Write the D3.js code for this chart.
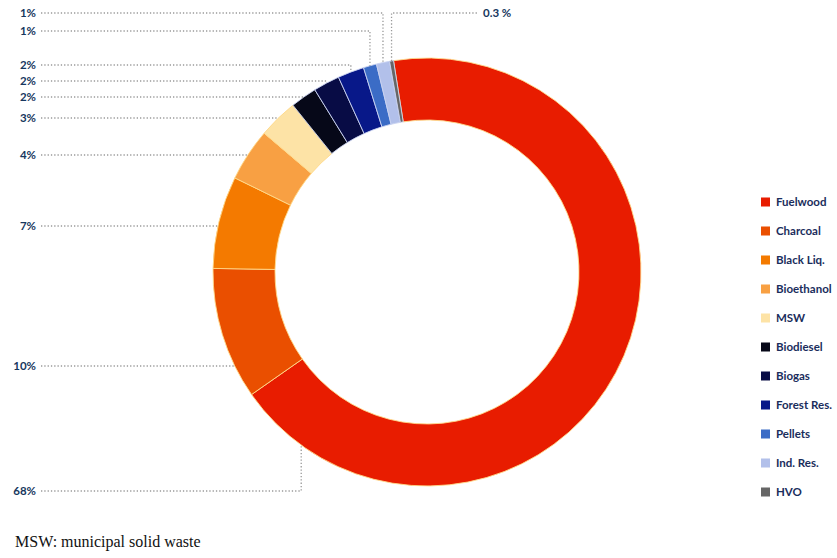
<!DOCTYPE html>
<html><head><meta charset="utf-8">
<script src="https://cdn.jsdelivr.net/npm/d3@7"></script>
<style>
html,body{margin:0;padding:0;background:#fff;}
svg{display:block;}
</style></head>
<body>
<svg id="chart" width="837" height="558"></svg>
<script>
// ---- data ----
const categories = ["Fuelwood","Charcoal","Black Liq.","Bioethanol","MSW","Biodiesel","Biogas","Forest Res.","Pellets","Ind. Res.","HVO"];
const values = [68, 10, 7, 4, 3, 2, 2, 2, 1, 1, 0.3];
const valueLabels = ["68%","10%","7%","4%","3%","2%","2%","2%","1%","1%","0.3 %"];
const colors = ["#e81c00","#ea4f00","#f47a00","#f8a043","#fde3a6","#060818","#080c45","#081889","#3b6cc6","#b2c0ea","#666666"];
const footnote = "MSW: municipal solid waste";

// ---- layout ----
const W = 837, H = 558;
const cx = 427, cy = 272, R = 214, r = 152;
const startDeg = -9;
const labelY = [491, 366, 226, 155, 118, 97, 81, 65, 31, 13, 13];
const labelMode = ["elbow","h","h","h","v","v","v","v","v","v","right"];
const textColor = "#17375e";

const svg = d3.select("#chart");
const g = svg.append("g").attr("transform", `translate(${cx},${cy})`);

const pie = d3.pie().sort(null).value(d => d)
  .startAngle(startDeg * Math.PI/180)
  .endAngle(startDeg * Math.PI/180 + 2*Math.PI);
const arcs = pie(values);
const arc = d3.arc().innerRadius(r).outerRadius(R);

g.selectAll("path.slice").data(arcs).enter().append("path")
  .attr("class","slice")
  .attr("d", arc)
  .attr("fill", (d,i) => colors[i])
  .attr("stroke", (d,i) => i >= 5 && i <= 10 ? "#c9d3f0" : "#ffd98a")
  .attr("stroke-width", 0.9);

// ---- leader lines & labels ----
const lines = svg.append("g");
const labelRightX = 36, lineStartX = 41;
function arcYAtX(x){ const dx = x - cx; return cy - Math.sqrt(R*R - dx*dx); }
function arcXAtY(y){ const dy = y - cy; return cx - Math.sqrt(R*R - dy*dy); }

arcs.forEach((a, i) => {
  const mid = (a.startAngle + a.endAngle)/2;
  const mx = cx + R*Math.sin(mid);
  const y = labelY[i];
  let pts;
  const mode = labelMode[i];
  if (mode === "h") {
    pts = [[lineStartX, y],[arcXAtY(y), y]];
  } else if (mode === "v") {
    pts = [[lineStartX, y],[mx, y],[mx, arcYAtX(mx)]];
  } else if (mode === "elbow") {
    const ang = 216*Math.PI/180;
    const ex = cx + R*Math.sin(ang), ey = cy - R*Math.cos(ang);
    pts = [[lineStartX, y],[ex, y],[ex, ey]];
  } else if (mode === "right") {
    pts = [[mx, arcYAtX(mx)],[mx, y],[478, y]];
  }
  lines.append("path")
    .attr("d", d3.line()(pts))
    .attr("fill","none")
    .attr("stroke","#9a9a9a")
    .attr("stroke-width",1.3)
    .attr("stroke-dasharray","1.3,2");
  const t = svg.append("text")
    .attr("y", y)
    .attr("dy","0.35em")
    .attr("font-family","Lato, 'Open Sans', sans-serif")
    .attr("font-weight","bold")
    .attr("font-size","11.5px")
    .attr("fill", textColor)
    .text(valueLabels[i]);
  if (mode === "right") t.attr("x", 483).attr("text-anchor","start");
  else t.attr("x", labelRightX).attr("text-anchor","end");
});

// ---- legend ----
const legend = svg.append("g").attr("transform","translate(761,202)");
const ly = d3.scalePoint().domain(categories).range([0, 290]);
categories.forEach((c, i) => {
  const row = legend.append("g").attr("transform", `translate(0,${ly(c)})`);
  row.append("rect").attr("x",0).attr("y",-4.5).attr("width",9).attr("height",9).attr("fill",colors[i]);
  row.append("text").attr("x",15).attr("y",0).attr("dy","0.35em")
    .attr("font-family","Lato, 'Open Sans', sans-serif")
    .attr("font-weight","bold").attr("font-size","11.5px")
    .attr("fill","#1a2d5c").text(c);
});

// ---- footnote ----
svg.append("text").attr("x",15).attr("y",547)
  .attr("font-family","'Liberation Serif', 'Times New Roman', serif")
  .attr("font-size","16px").attr("fill","#111").text(footnote);
</script>
</body></html>
